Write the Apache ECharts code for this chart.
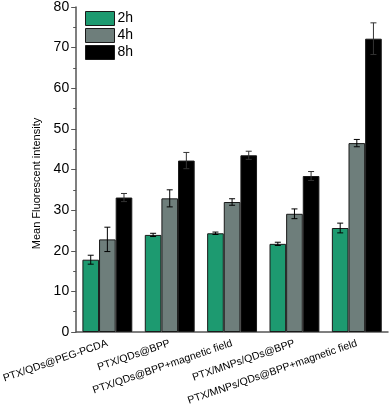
<!DOCTYPE html>
<html>
<head>
<meta charset="utf-8">
<title>Mean Fluorescent intensity</title>
<script src="https://cdn.jsdelivr.net/npm/echarts@6/dist/echarts.min.js"></script>
<style>
  html, body { margin: 0; padding: 0; background: #fff; }
  #main { width: 392px; height: 408px; }
</style>
</head>
<body>
<div id="main"></div>
<script type="text/javascript">
    // 数据
    var categories = ['PTX/QDs@PEG-PCDA', 'PTX/QDs@BPP', 'PTX/QDs@BPP+magnetic field',
        'PTX/MNPs/QDs@BPP', 'PTX/MNPs/QDs@BPP+magnetic field'];
    var seriesNames = ['2h', '4h', '8h'];
    var values2h = [17.8, 23.9, 24.3, 21.7, 25.6];
    var values4h = [22.8, 32.9, 32.0, 29.1, 46.5];
    var values8h = [33.1, 42.2, 43.5, 38.4, 72.2];
    var err2h = [1.1, 0.4, 0.3, 0.4, 1.2];
    var err4h = [3.0, 2.1, 0.8, 1.2, 0.9];
    var err8h = [1.0, 2.0, 1.0, 1.1, 3.9];
    var yTicks = [0, 10, 20, 30, 40, 50, 60, 70, 80];

    var colors = ['#1d9a70', '#6e7e7b', '#000000'];
    var allValues = [values2h, values4h, values8h];
    var allErr = [err2h, err4h, err8h];
    var catGap = 0.2;

    var myChart = echarts.init(document.getElementById('main'));

    var series = [];
    seriesNames.forEach(function (name, s) {
        series.push({
            name: name,
            type: 'bar',
            data: allValues[s],
            barGap: '0%',
            barCategoryGap: '20%',
            itemStyle: { color: colors[s], borderColor: '#1a1a1a', borderWidth: 1 },
            z: 2
        });
    });

    // 误差线
    seriesNames.forEach(function (name, s) {
        series.push({
            type: 'custom',
            name: name + '-err',
            silent: true,
            z: 3,
            data: allValues[s].map(function (v, i) { return [i, v, allErr[s][i]]; }),
            renderItem: function (params, api) {
                var i = api.value(0);
                var v = api.value(1);
                var e = api.value(2);
                var center = api.coord([i, v]);
                var bandW = api.size([1, 0])[0];
                var barW = bandW * (1 - catGap) / 3;
                var x = center[0] + (s - 1) * barW;
                var hi = api.coord([i, v + e])[1];
                var lo = api.coord([i, v - e])[1];
                var cap = 3;
                var st = { stroke: s === 2 ? '#333' : '#000', lineWidth: 1 };
                return {
                    type: 'group',
                    children: [
                        { type: 'line', shape: { x1: x, y1: hi, x2: x, y2: lo }, style: st },
                        { type: 'line', shape: { x1: x - cap, y1: hi, x2: x + cap, y2: hi }, style: st },
                        { type: 'line', shape: { x1: x - cap, y1: lo, x2: x + cap, y2: lo }, style: st }
                    ]
                };
            }
        });
    });

    var option = {
        animation: false,
        textStyle: { fontFamily: 'Liberation Sans, Arial, sans-serif' },
        legend: {
            data: seriesNames,
            orient: 'vertical',
            left: 80,
            top: 6,
            itemWidth: 29,
            itemHeight: 14,
            itemGap: 2,
            icon: 'rect',
            textStyle: { fontSize: 14, color: '#000', padding: [0, 0, 0, -2] },
            itemStyle: { borderColor: '#1a1a1a', borderWidth: 1 }
        },
        grid: { left: 65, right: 4, top: 7, bottom: 76 },
        xAxis: {
            type: 'category',
            data: categories,
            axisLine: { lineStyle: { color: '#555', width: 1.5 } },
            axisTick: { alignWithLabel: true, length: 4, lineStyle: { color: '#555' } },
            axisLabel: {
                interval: 0,
                rotate: 19,
                fontSize: 10.5,
                color: '#000',
                margin: 11
            }
        },
        yAxis: {
            type: 'value',
            min: yTicks[0],
            max: yTicks[yTicks.length - 1],
            interval: 10,
            name: 'Mean Fluorescent intensity',
            nameLocation: 'middle',
            nameGap: 26,
            nameTextStyle: { fontSize: 11, color: '#000', padding: [0, 28, 0, 0] },
            axisLine: { show: true, lineStyle: { color: '#555', width: 1.5 } },
            axisTick: { show: true, length: 5, lineStyle: { color: '#555' } },
            minorTick: { show: true, splitNumber: 2, length: 3, lineStyle: { color: '#555' } },
            splitLine: { show: false },
            axisLabel: { fontSize: 14, color: '#000', margin: 7 }
        },
        series: series
    };
    myChart.setOption(option);
</script>
</body>
</html>
